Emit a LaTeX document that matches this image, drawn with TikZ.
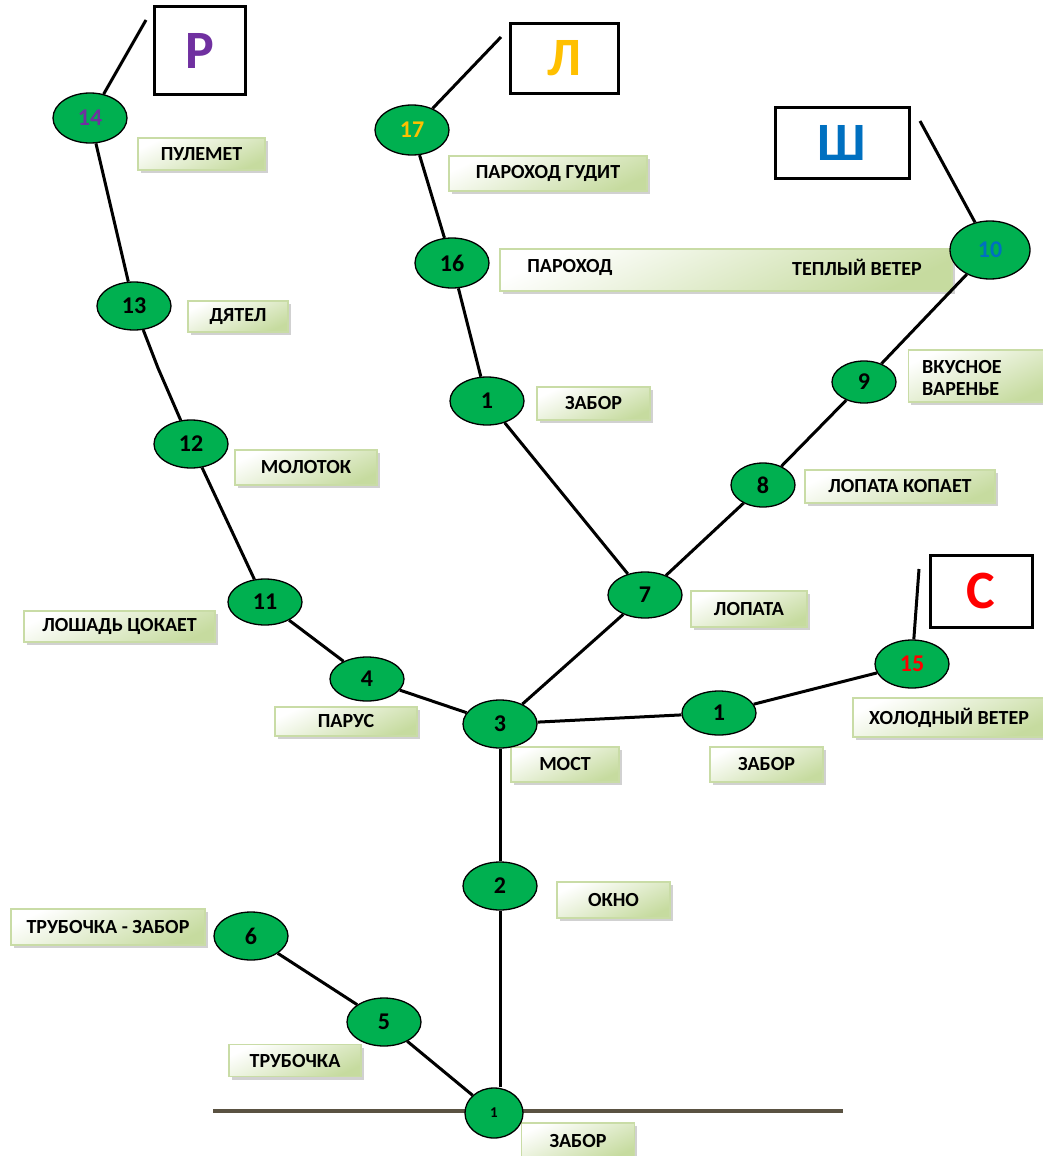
\documentclass[tikz,border=0pt]{standalone}
\usepackage{fontspec}
\setmainfont{Carlito}
\usepackage{tikz}
\usetikzlibrary{shapes.geometric,shadows}
\definecolor{knotgreen}{HTML}{00B050}
\definecolor{tagfill}{HTML}{C6DB9F}
\definecolor{tagline}{HTML}{C9DCA6}
\definecolor{groundc}{HTML}{5A5242}
\definecolor{lpurple}{HTML}{7030A0}
\definecolor{lgold}{HTML}{FFC000}
\definecolor{lblue}{HTML}{0070C0}
\definecolor{lred}{HTML}{FF0000}
\tikzset{
  knot/.style={ellipse, draw=black, line width=1.3pt, fill=knotgreen, inner sep=0pt,
    minimum width=74pt, minimum height=48pt, font=\bfseries\fontsize{24}{24}\selectfont},
  tagbox/.style={draw=tagline, line width=1.5pt, top color=white, bottom color=tagfill,
    shading angle=25, inner sep=0pt,
    drop shadow={shadow xshift=2.5pt, shadow yshift=-3pt, fill=black!40, opacity=0.45},
    font=\bfseries\fontsize{20}{22}\selectfont},
  tagtext/.style={inner sep=0pt, font=\bfseries\fontsize{20}{22}\selectfont},
  letterbox/.style={draw=black, line width=3pt, fill=white, inner sep=0pt,
    font=\bfseries\fontsize{54}{54}\selectfont},
  branch/.style={draw=black, line width=3pt},
  groundline/.style={draw=groundc, line width=3.5pt},
}

\begin{document}
\begin{tikzpicture}[x=1pt,y=-1pt]
  \useasboundingbox (0,0) rectangle (1043,1156);
  \coordinate (gL) at (213,1111);
  \coordinate (gR) at (843,1111);
  \draw[groundline] (gL) -- (gR);

  % word boxes
  \node[tagbox, minimum width=127pt, minimum height=32pt] (tPulemet) at (201.5,154) {ПУЛЕМЕТ};
  \node[tagbox, minimum width=198pt, minimum height=35pt] (tGudit) at (548,173.5) {ПАРОХОД ГУДИТ};
  \node[tagbox, minimum width=452pt, minimum height=42pt] (tLong) at (726,270) {};
  \node[tagtext] (tParohod) at (570,267) {ПАРОХОД};
  \node[tagtext] (tTeply) at (857,267) {ТЕПЛЫЙ ВЕТЕР};
  \node[tagbox, minimum width=100pt, minimum height=31pt] (tDyatel) at (238,316.5) {ДЯТЕЛ};
  \node[tagbox, minimum width=113pt, minimum height=33pt] (tZaborA) at (593.5,403.5) {ЗАБОР};
  \node[tagbox, minimum width=136pt, minimum height=52pt] (tVarenie) at (976.5,376) {};
  \node[tagtext, anchor=west, align=left] (tVkusnoe) at (922,378) {ВКУСНОЕ\\ВАРЕНЬЕ};
  \node[tagbox, minimum width=142pt, minimum height=35pt] (tMolotok) at (306,467.5) {МОЛОТОК};
  \node[tagbox, minimum width=190pt, minimum height=33pt] (tKopaet) at (900,486.5) {ЛОПАТА КОПАЕТ};
  \node[tagbox, minimum width=116pt, minimum height=36pt] (tLopata) at (749,609) {ЛОПАТА};
  \node[tagbox, minimum width=191pt, minimum height=31pt] (tLoshad) at (119.5,626.5) {ЛОШАДЬ ЦОКАЕТ};
  \node[tagbox, minimum width=142pt, minimum height=29pt] (tParus) at (346,721.5) {ПАРУС};
  \node[tagbox, minimum width=108pt, minimum height=35pt] (tMost) at (565,764.5) {МОСТ};
  \node[tagbox, minimum width=113pt, minimum height=35pt] (tZaborB) at (766.5,764.5) {ЗАБОР};
  \node[tagbox, minimum width=192pt, minimum height=39pt] (tHolod) at (949,717.5) {ХОЛОДНЫЙ ВЕТЕР};
  \node[tagbox, minimum width=113pt, minimum height=36pt] (tOkno) at (613.5,900) {ОКНО};
  \node[tagbox, minimum width=194pt, minimum height=36pt] (tTrubZ) at (108,927) {ТРУБОЧКА - ЗАБОР};
  \node[tagbox, minimum width=132pt, minimum height=32pt] (tTrub) at (295,1060.5) {ТРУБОЧКА};
  \node[tagbox, minimum width=113pt, minimum height=36pt] (tZaborC) at (578,1141) {ЗАБОР};

  % letter boxes
  \node[letterbox, minimum width=91pt, minimum height=87pt, text=lpurple] (bR) at (200,50.5) {Р};
  \node[letterbox, minimum width=108pt, minimum height=69pt, text=lgold] (bL) at (564,58.5) {Л};
  \node[letterbox, minimum width=134pt, minimum height=71pt, text=lblue] (bSh) at (842,142.5) {Ш};
  \node[letterbox, minimum width=102pt, minimum height=72pt, text=lred] (bS) at (981,591) {С};

  % knots
  \node[knot, minimum width=58pt, minimum height=50pt, font=\bfseries\fontsize{15}{15}\selectfont] (k1a) at (494,1113) {1};
  \node[knot] (k5) at (384,1022) {5};
  \node[knot] (k6) at (251,936) {6};
  \node[knot] (k2) at (500,886) {2};
  \node[knot] (k3) at (500,724) {3};
  \node[knot, minimum height=44pt] (k4) at (367,679) {4};
  \node[knot, minimum height=46pt] (k11) at (265,602) {11};
  \node[knot] (k12) at (191,444) {12};
  \node[knot] (k13) at (134,306) {13};
  \node[knot, minimum height=50pt, text=lpurple] (k14) at (90,118) {14};
  \node[knot, minimum height=50pt, text=lgold] (k17) at (412,130) {17};
  \node[knot, minimum height=50pt] (k16) at (452,263) {16};
  \node[knot] (k1b) at (487,401) {1};
  \node[knot, minimum height=46pt] (k7) at (645,595) {7};
  \node[knot, minimum width=64pt, minimum height=44pt] (k8) at (763,485) {8};
  \node[knot, minimum width=64pt, minimum height=42pt] (k9) at (864,382) {9};
  \node[knot, minimum width=80pt, minimum height=58pt, text=lblue] (k10) at (990,250) {10};
  \node[knot, minimum height=44pt] (k1c) at (719,713) {1};
  \node[knot, text=lred] (k15) at (912,664) {15};

  \coordinate (bend13) at (158,368);
  \coordinate (end14) at (146,20);
  \coordinate (end17) at (501,37);
  \coordinate (end10) at (920,121);
  \coordinate (end15) at (919,569);

  % branches
  \draw[branch] (k1a) -- (k5);
  \draw[branch] (k5) -- (k6);
  \draw[branch] (k1a.north -| k2) -- (k2);
  \draw[branch] (k2) -- (k3);
  \draw[branch] (k3) -- (k4);
  \draw[branch] (k4) -- (k11);
  \draw[branch] (k11) -- (k12);
  \draw[branch] (k12) -- (bend13) -- (k13);
  \draw[branch] (k13) -- (k14);
  \draw[branch] (k14) -- (end14);
  \draw[branch] (k3) -- (k7);
  \draw[branch] (k7) -- (k1b);
  \draw[branch] (k1b) -- (k16);
  \draw[branch] (k16) -- (k17);
  \draw[branch] (k17) -- (end17);
  \draw[branch] (k7) -- (k8);
  \draw[branch] (k8) -- (k9);
  \draw[branch] (k9) -- (k10);
  \draw[branch] (k10) -- (end10);
  \draw[branch] (k3) -- (k1c);
  \draw[branch] (k1c) -- (k15);
  \draw[branch] (k15) -- (end15);
\end{tikzpicture}
\end{document}
